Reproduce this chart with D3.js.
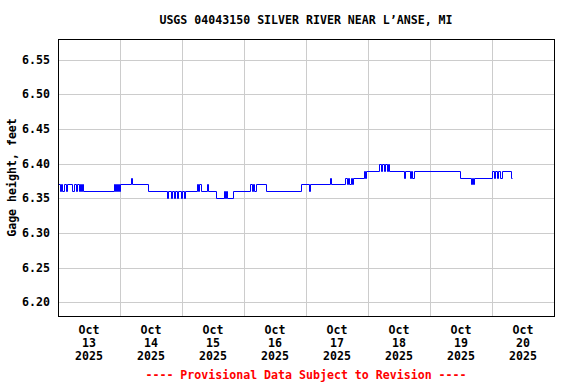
<!DOCTYPE html>
<html>
<head>
<meta charset="utf-8">
<script src="https://cdn.jsdelivr.net/npm/d3@7"></script>
<style>
  body { margin: 0; background: #fff; }
  text { font-family: "DejaVu Sans Mono", "Liberation Mono", monospace; font-weight: bold; font-size: 11.6px; }
</style>
</head>
<body>
<svg id="chart" width="576" height="384"></svg>
<script>
'use strict';

const title = "USGS 04043150 SILVER RIVER NEAR L\u2019ANSE, MI";
const y_label = 'Gage height, feet';
const footer = '---- Provisional Data Subject to Revision ----';

// hours after Oct 13 2025 00:00 where the reading changes, and the new reading
const hours = [
    0, 0.75, 1.25, 1.5, 2.25, 3, 3.5, 5.5, 6.25, 7, 7.25, 8, 8.5, 9, 9.25, 9.75,
    21.75, 22, 22.5, 22.75, 23.25, 23.5, 24, 28.25, 28.75, 34.75,
    42.25, 42.5, 43.75, 44, 45, 45.25, 46, 46.5, 47.5, 48, 48.75, 49.25,
    53.75, 54.25, 54.5, 55.25, 57.75, 58, 61.25, 64.25, 64.75, 65, 65.5, 67.75,
    74.25, 75, 75.5, 76, 76.75, 80.5, 94, 97.25, 97.5, 105.25, 105.75,
    111, 112, 112.25, 112.75, 113.5, 113.75, 114.25, 118.5, 118.75, 119.25,
    124.25, 125, 125.5, 126.25, 126.5, 127.25, 127.75, 128,
    134, 134.25, 136.25, 136.75, 137, 137.75, 155.5, 159.75, 160.25, 160.75, 161,
    168, 168.75, 169.25, 170, 170.25, 171, 172, 175.25, 175.75
];
const gage = [
    6.37, 6.36, 6.37, 6.36, 6.37, 6.36, 6.37, 6.36, 6.37, 6.36, 6.37, 6.36, 6.37, 6.36, 6.37, 6.36,
    6.37, 6.36, 6.37, 6.36, 6.37, 6.36, 6.37, 6.38, 6.37, 6.36,
    6.35, 6.36, 6.35, 6.36, 6.35, 6.36, 6.35, 6.36, 6.35, 6.36, 6.35, 6.36,
    6.37, 6.36, 6.37, 6.36, 6.37, 6.36, 6.35, 6.36, 6.35, 6.36, 6.35, 6.36,
    6.37, 6.36, 6.37, 6.36, 6.37, 6.36, 6.37, 6.36, 6.37, 6.38, 6.37,
    6.38, 6.37, 6.38, 6.37, 6.38, 6.37, 6.38, 6.39, 6.38, 6.39,
    6.40, 6.39, 6.40, 6.39, 6.40, 6.39, 6.40, 6.39,
    6.38, 6.39, 6.38, 6.39, 6.38, 6.39, 6.38, 6.37, 6.38, 6.37, 6.38,
    6.39, 6.38, 6.39, 6.38, 6.39, 6.38, 6.39, 6.38, 6.38
];
const y_ticks = [6.20, 6.25, 6.30, 6.35, 6.40, 6.45, 6.50, 6.55];
const y_domain = [6.18, 6.58];
const day_labels = ['13', '14', '15', '16', '17', '18', '19', '20'];

const margin = {top: 39, right: 22, bottom: 68, left: 58};
const width = 576, height = 384;
const plot_w = width - margin.left - margin.right;
const plot_h = height - margin.top - margin.bottom;

const start = new Date(Date.UTC(2025, 9, 13));
const end = new Date(Date.UTC(2025, 9, 21));
const at_hour = h => new Date(start.getTime() + h * 3600e3);

const xScale = d3.scaleUtc().domain([start, end]).range([0, plot_w]);
const yScale = d3.scaleLinear().domain(y_domain).range([plot_h, 0]);

const svg = d3.select('#chart');
const content = svg.append('g')
    .attr('transform', `translate(${margin.left},${margin.top})`);

// grid
content.append('g')
    .selectAll('line')
    .data(y_ticks)
    .join('line')
    .attr('x1', 0).attr('x2', plot_w)
    .attr('y1', d => Math.round(yScale(d)) + 0.5)
    .attr('y2', d => Math.round(yScale(d)) + 0.5)
    .attr('stroke', '#cccccc');
content.append('g')
    .selectAll('line')
    .data(d3.utcDay.range(d3.utcDay.offset(start, 1), end))
    .join('line')
    .attr('x1', d => Math.round(xScale(d)) + 0.5)
    .attr('x2', d => Math.round(xScale(d)) + 0.5)
    .attr('y1', 0).attr('y2', plot_h)
    .attr('stroke', '#cccccc');

// y tick labels
content.append('g')
    .selectAll('text')
    .data(y_ticks)
    .join('text')
    .attr('x', -8)
    .attr('y', d => yScale(d) + 4)
    .attr('text-anchor', 'end')
    .text(d => d3.format('.2f')(d));

// x tick labels at noon of each day
const labels = content.append('g')
    .selectAll('text')
    .data(day_labels)
    .join('text')
    .attr('text-anchor', 'middle')
    .attr('transform', (d, i) => `translate(${xScale(at_hour(i * 24 + 12))},${plot_h + 18})`);
labels.append('tspan').attr('x', 0).attr('dy', 0).text('Oct');
labels.append('tspan').attr('x', 0).attr('dy', 13).text(d => d);
labels.append('tspan').attr('x', 0).attr('dy', 13).text('2025');

// data line
const points = hours.map((h, i) => [at_hour(h), gage[i]]);
content.append('path')
    .datum(points)
    .attr('fill', 'none')
    .attr('stroke', '#0000ff')
    .attr('stroke-width', 1)
    .attr('d', d3.line()
        .x(d => Math.round(xScale(d[0])) + 0.5)
        .y(d => Math.round(yScale(d[1])) + 0.5)
        .curve(d3.curveStepAfter));

// frame
content.append('rect')
    .attr('x', 0.5).attr('y', 0.5)
    .attr('width', plot_w).attr('height', plot_h)
    .attr('fill', 'none')
    .attr('stroke', '#000');

svg.append('text')
    .attr('x', margin.left + plot_w / 2)
    .attr('y', 24)
    .attr('text-anchor', 'middle')
    .text(title);

svg.append('text')
    .attr('transform', `translate(16,${margin.top + plot_h / 2}) rotate(-90)`)
    .attr('text-anchor', 'middle')
    .text(y_label);

svg.append('text')
    .attr('x', margin.left + plot_w / 2)
    .attr('y', 379)
    .attr('text-anchor', 'middle')
    .attr('fill', '#ff0000')
    .text(footer);
</script>
</body>
</html>
